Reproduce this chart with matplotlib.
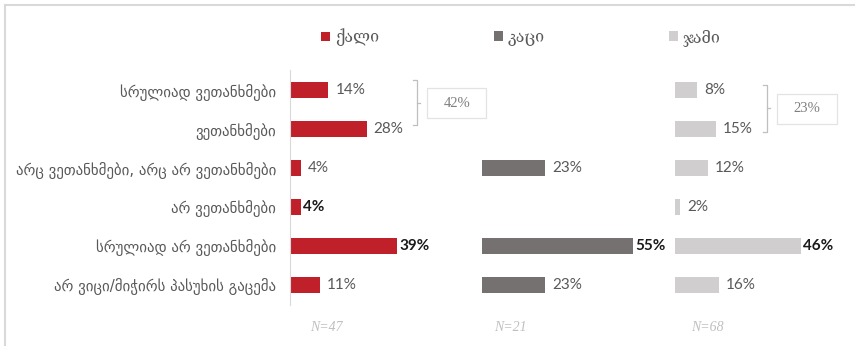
import matplotlib
matplotlib.use("Agg")
import matplotlib.pyplot as plt
from matplotlib.lines import Line2D
from matplotlib.patches import Rectangle

categories = [
    "სრულიად ვეთანხმები",
    "ვეთანხმები",
    "არც ვეთანხმები, არც არ ვეთანხმები",
    "არ ვეთანხმები",
    "სრულიად არ ვეთანხმები",
    "არ ვიცი/მიჭირს პასუხის გაცემა",
]
groups = ["ქალი", "კაცი", "ჯამი"]
n_labels = ["N=47", "N=21", "N=68"]
women = [14, 28, 4, 4, 39, 11]
men = [None, None, 23, None, 55, 23]
total = [8, 15, 12, 2, 46, 16]
bold_w = [False, False, False, True, True, False]
bold_m = [False, False, False, False, True, False]
bold_t = [False, False, False, False, True, False]

colors = ["#C0202A", "#767171", "#D0CECE"]
TXT = "#595959"

W, H = 855, 346
fig = plt.figure(figsize=(W / 100, H / 100), dpi=100)

# cadre de la figure (seuls les bords haut et gauche sont visibles dans la source)
fig.add_artist(Line2D([5 / W, 5 / W], [0, 1 - 5 / H], transform=fig.transFigure, color="#D9D9D9", lw=1.5))
fig.add_artist(Line2D([5 / W, 1], [1 - 5 / H, 1 - 5 / H], transform=fig.transFigure, color="#D9D9D9", lw=1.5))

lefts = [290, 482, 675]
pw = 192
ax_bottom = (H - 305) / H
ax_h = 235 / H
series = [women, men, total]
bolds = [bold_w, bold_m, bold_t]
leg_x = [0.193, 0.094, 0.0]
n_x = [0.19, 0.146, 0.167]

axes = []
for k in range(3):
    ax = fig.add_axes([lefts[k] / W, ax_bottom, pw / W, ax_h])
    ax.patch.set_visible(False)
    vals = series[k]
    ys = [i for i, v in enumerate(vals) if v is not None]
    vs = [v for v in vals if v is not None]
    bars = ax.barh(ys, vs, height=0.41, color=colors[k])
    for y, v in zip(ys, vs):
        b = bolds[k][y]
        ax.annotate(f"{v}%", (v, y), xytext=(1.5 if b else 5, 0), textcoords="offset points",
                    va="center", ha="left", fontsize=11, family="Lato",
                    fontweight="bold" if b else "normal", color="#1A1A1A" if b else TXT)
    ax.set_xlim(0, 70)
    ax.set_ylim(5.513, -0.513)
    for s in ax.spines.values():
        s.set_visible(False)
    ax.set_xticks([])
    if k == 0:
        ax.spines["left"].set_visible(True)
        ax.spines["left"].set_color("#D9D9D9")
        ax.set_yticks(range(len(categories)))
        ax.set_yticklabels(categories, color=TXT, fontsize=10.7, family="DejaVu Sans")
        ax.tick_params(axis="y", length=0, pad=10)
    else:
        ax.set_yticks([])
    leg = ax.legend([bars], [groups[k]], loc="center left", bbox_to_anchor=(leg_x[k] - 0.03, 1.14),
                    frameon=False, handlelength=0.55, handleheight=0.55, handletextpad=0.3,
                    borderaxespad=0, borderpad=0,
                    prop={"family": ["DejaVu Serif", "DejaVu Sans"], "size": 11.5})
    for t in leg.get_texts():
        t.set_color(TXT)
    ax.text(n_x[k], -0.094, n_labels[k], transform=ax.transAxes, ha="center", va="center",
            fontsize=10, family="Liberation Serif", style="italic", color="#BFBFBF")
    axes.append(ax)


def bracket(ax, x0, y0, y1, ym, bx0, bx1, by0, by1, value):
    kw = dict(color="#BFBFBF", lw=0.9, clip_on=False)
    ax.plot([x0, x0 + 1.4, x0 + 1.4, x0], [y0, y0, y1, y1], **kw)
    ax.plot([x0 + 1.4, x0 + 2.6], [ym, ym], **kw)
    ax.add_patch(Rectangle((bx0, by0), bx1 - bx0, by1 - by0, fill=False, ec="#E3E3E3", lw=0.9, clip_on=False))
    ax.text((bx0 + bx1) / 2, (by0 + by1) / 2, f"{value}%", ha="center", va="center",
            fontsize=10.5, family="Liberation Serif", color="#7F7F7F")


bracket(axes[0], 44.9, -0.26, 0.90, 0.33, 50.0, 71.5, -0.05, 0.72, women[0] + women[1])
bracket(axes[2], 32.1, -0.13, 1.08, 0.46, 37.2, 59.1, 0.10, 0.87, total[0] + total[1])

fig.savefig("out.png", dpi=100)
